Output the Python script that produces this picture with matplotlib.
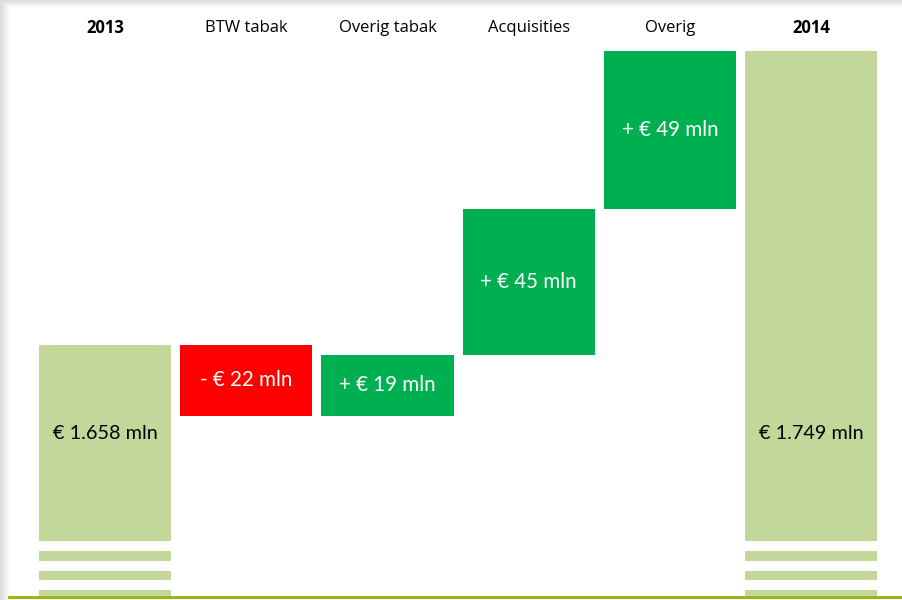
import matplotlib
matplotlib.use("Agg")
import matplotlib.pyplot as plt
import numpy as np

categories = ["2013", "BTW tabak", "Overig tabak", "Acquisities", "Overig", "2014"]
start_total = 1658
deltas = [-22, 19, 45, 49]
end_total = 1749
value_labels = ["€ 1.658 mln", "- € 22 mln", "+ € 19 mln", "+ € 45 mln", "+ € 49 mln", "€ 1.749 mln"]

LIGHT = "#C4D79B"
GREEN = "#00B050"
RED = "#FF0000"
LINE = "#9BB51A"

fig = plt.figure(figsize=(9.03, 6.0), dpi=100)
fig.patch.set_facecolor("white")

# frame shadow (left and top)
shade = fig.add_axes([0, 0, 1, 1], zorder=0)
shade.set_axis_off()
W, H = 903, 600
img = np.ones((H, W))
for i in range(10):
    img[:, i] = np.minimum(img[:, i], 0.86 + 0.014 * i)
for j in range(8):
    img[j, :] = np.minimum(img[j, :], 0.87 + 0.016 * j)
shade.imshow(img, cmap="gray", vmin=0, vmax=1, aspect="auto", extent=(0, W, H, 0))
shade.set_xlim(0, W)
shade.set_ylim(H, 0)

ax = fig.add_axes([9 / W, 2 / H, (W - 9) / W, (598 - 8) / H], zorder=1)
ax.patch.set_alpha(0)

x = np.arange(len(categories))
width = 0.935
base = 1597.3

# waterfall
bottoms, heights, colors = [], [], []
bottoms.append(base); heights.append(start_total - base); colors.append(LIGHT)
level = start_total
for d in deltas:
    if d < 0:
        bottoms.append(level + d); heights.append(-d); colors.append(RED)
    else:
        bottoms.append(level); heights.append(d); colors.append(GREEN)
    level += d
bottoms.append(base); heights.append(end_total - base); colors.append(LIGHT)

ax.bar(x, heights, bottom=bottoms, width=width, color=colors, linewidth=0)

# broken-axis stripes under totals
stripes = [(1591.1, 1594.2), (1585.2, 1588.0), (1579.6, 1582.1)]
for xi in (0, len(categories) - 1):
    for lo, hi in stripes:
        ax.bar(x[xi], hi - lo, bottom=lo, width=width, color=LIGHT, linewidth=0)

ax.set_xlim(-0.68, 5.65)
ax.set_ylim(1579.65, 1762.3)
ax.set_axis_off()
ax.axhline(1579.95, color=LINE, linewidth=2.2, clip_on=False)

font = "Lato"
# labels
total_y = base + 0.55 * (start_total - base)
for i, lab in enumerate(value_labels):
    if i == 0 or i == len(categories) - 1:
        ax.text(x[i], total_y, lab, ha="center", va="center", fontsize=14.3,
                color="black", family=font)
    else:
        ax.text(x[i], bottoms[i] + heights[i] / 2, lab, ha="center", va="center",
                fontsize=14.8, color="white", family=font)

for i, c in enumerate(categories):
    bold = i in (0, len(categories) - 1)
    ax.text(x[i], 1756.0, c, ha="center", va="center", fontsize=12,
            fontweight="bold" if bold else "normal", family="Open Sans", color="black")

fig.savefig("out.png", dpi=100)
